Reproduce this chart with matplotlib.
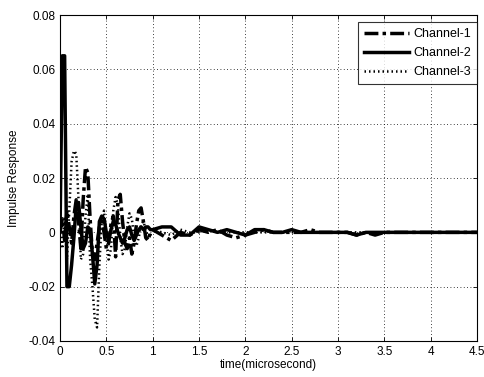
import matplotlib
matplotlib.use("Agg")
import matplotlib.pyplot as plt

plt.rcParams['font.family'] = ['Liberation Sans', 'DejaVu Sans']

time_early = [0.000, 0.025, 0.050, 0.075, 0.100, 0.125, 0.150, 0.175, 0.200, 0.225,
              0.250, 0.275, 0.300, 0.325, 0.350, 0.375, 0.400, 0.425, 0.450, 0.475,
              0.500, 0.525, 0.550, 0.575, 0.600, 0.625, 0.650, 0.675, 0.700, 0.725,
              0.750, 0.775, 0.800, 0.825, 0.850, 0.875, 0.900, 0.925, 0.950, 0.975, 1.000]
time_late = [1.1, 1.2, 1.3, 1.4, 1.5, 1.6, 1.7, 1.8, 1.9, 2.0, 2.1, 2.2, 2.3, 2.4, 2.5,
             2.6, 2.7, 2.8, 2.9, 3.0, 3.1, 3.2, 3.3, 3.4, 3.5, 3.6, 3.7, 3.8, 3.9, 4.0,
             4.1, 4.2, 4.3, 4.4, 4.5]

ch1_early = [0.000, 0.005, -0.003, 0.008, 0.002, -0.004, 0.006, 0.012, 0.004, -0.006,
             0.012, 0.024, 0.022, 0.005, -0.008, -0.010, -0.004, 0.002, 0.004, 0.000,
             -0.006, -0.004, 0.003, 0.006, -0.009, 0.012, 0.014, 0.004, -0.004, -0.006,
             -0.002, -0.008, -0.004, 0.003, 0.008, 0.009, 0.004, -0.002, -0.003, 0.000, 0.001]
ch1_late = [-0.001, -0.003, 0.000, -0.001, 0.001, 0.000, 0.001, -0.001, -0.002, -0.001,
            0.000, 0.001, 0.000, 0.000, 0.000, 0.000, 0.001, 0.000, 0.000, 0.000,
            0.000, -0.001, 0.000, -0.001, 0.000, 0.000, 0.000, 0.000, 0.000, 0.000,
            0.000, 0.000, 0.000, 0.000, 0.000]

ch2_early = [0.000, 0.065, 0.065, -0.020, -0.020, -0.012, -0.002, 0.010, 0.011, 0.002,
             -0.006, -0.004, 0.002, 0.001, -0.008, -0.019, -0.012, 0.004, 0.006, 0.005,
             0.000, -0.003, 0.001, 0.004, 0.003, 0.000, -0.002, -0.004, -0.002, 0.001,
             0.002, -0.001, -0.003, -0.001, 0.001, 0.002, 0.001, 0.002, 0.002, 0.001, 0.001]
ch2_late = [0.002, 0.002, -0.001, -0.001, 0.002, 0.001, 0.000, 0.001, 0.000, -0.001,
            0.001, 0.001, 0.000, 0.000, 0.001, 0.000, 0.000, 0.000, 0.000, 0.000,
            0.000, -0.001, 0.000, 0.000, 0.000, 0.000, 0.000, 0.000, 0.000, 0.000,
            0.000, 0.000, 0.000, 0.000, 0.000]

ch3_early = [0.000, -0.006, 0.005, -0.010, 0.008, 0.026, 0.030, 0.029, 0.012, -0.010,
             -0.008, 0.006, 0.014, -0.010, -0.020, -0.032, -0.035, -0.012, 0.004, 0.008,
             -0.002, -0.010, -0.006, 0.008, 0.013, 0.010, -0.002, -0.008, -0.006, 0.002,
             0.007, 0.005, -0.002, -0.005, -0.002, 0.003, 0.004, 0.001, -0.002, -0.001, 0.001]
ch3_late = [0.000, -0.001, 0.001, 0.000, 0.000, 0.001, 0.000, 0.000, 0.000, 0.000,
            0.000, 0.000, 0.000, 0.000, 0.000, 0.000, 0.000, 0.000, 0.000, 0.000,
            0.000, 0.000, 0.000, 0.000, 0.000, 0.000, 0.000, 0.000, 0.000, 0.000,
            0.000, 0.000, 0.000, 0.000, 0.000]

labels = ["Channel-1", "Channel-2", "Channel-3"]
xticks = [0, 0.5, 1, 1.5, 2, 2.5, 3, 3.5, 4, 4.5]
xtick_labels = ["0", "0.5", "1", "1.5", "2", "2.5", "3", "3.5", "4", "4.5"]
yticks = [-0.04, -0.02, 0, 0.02, 0.04, 0.06, 0.08]
ytick_labels = ["-0.04", "-0.02", "0", "0.02", "0.04", "0.06", "0.08"]

t = time_early + time_late
ch1 = ch1_early + ch1_late
ch2 = ch2_early + ch2_late
ch3 = ch3_early + ch3_late

fig = plt.figure(figsize=(4.85, 3.77), dpi=100)
ax = fig.add_axes([0.1237, 0.0955, 0.86, 0.8645])

ax.plot(t, ch1, color='black', linewidth=2.5, linestyle=(0, (4, 1.2, 1, 1.2)), label=labels[0])
ax.plot(t, ch2, color='black', linewidth=2.5, linestyle='-', label=labels[1])
ax.plot(t, ch3, color='black', linewidth=1.8, linestyle=(0, (0.6, 1.2)), label=labels[2])

ax.set_xlim(0, 4.5)
ax.set_ylim(-0.04, 0.08)
ax.set_xticks(xticks)
ax.set_xticklabels(xtick_labels)
ax.set_yticks(yticks)
ax.set_yticklabels(ytick_labels)
ax.tick_params(direction='in', top=True, right=True, labelsize=8.5, length=3, width=0.6)
ax.grid(True, color='black', linestyle=(0, (1, 3)), linewidth=0.6)
for s in ax.spines.values():
    s.set_linewidth(0.8)

ax.set_xlabel("time(microsecond)", fontsize=8.5, labelpad=1)
ax.set_ylabel("Impulse Response", fontsize=8.5, labelpad=6)

leg = ax.legend(loc='upper right', bbox_to_anchor=(1.0, 1 - 7 / 326), fontsize=9,
                frameon=True, fancybox=False, edgecolor='black', handlelength=3.6,
                handletextpad=0.3, borderaxespad=0, borderpad=0.5, labelspacing=0.55)
leg.get_frame().set_linewidth(0.8)

fig.savefig("out.png", dpi=100)
